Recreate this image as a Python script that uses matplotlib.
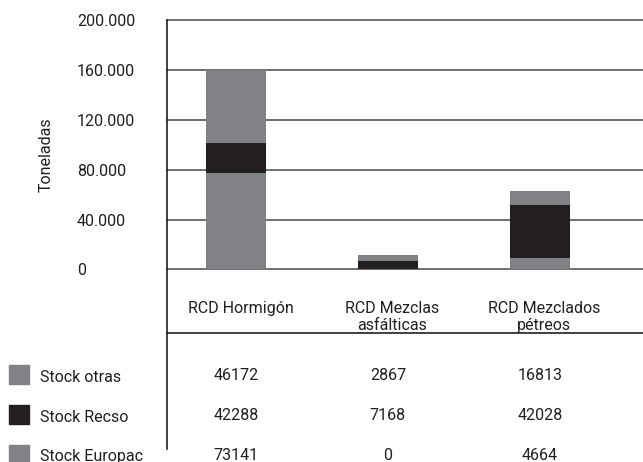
import matplotlib
matplotlib.use("Agg")
import matplotlib.pyplot as plt
from matplotlib.patches import Rectangle
from matplotlib.lines import Line2D
from matplotlib.transforms import blended_transform_factory

plt.rcParams['font.family'] = ['Roboto', 'DejaVu Sans']

# categories and bar heights
categories = ["RCD Hormigón", "RCD Mezclas\nasfálticas", "RCD Mezclados\npétreos"]
stock_europac = [77600, 0, 9200]
stock_recso = [24100, 6700, 42100]
stock_otras = [58300, 4800, 11400]

# table below the chart (as printed)
series_names = ["Stock otras", "Stock Recso", "Stock Europac"]
table_otras = ["46172", "2867", "16813"]
table_recso = ["42288", "7168", "42028"]
table_europac = ["73141", "0", "4664"]

yticks = [0, 40000, 80000, 120000, 160000, 200000]
ytick_labels = ["0", "40.000", "80.000", "120.000", "160.000", "200.000"]

GRAY = "#818285"
BLACK = "#231f20"
GRID = "#626365"
TEXT = "#231f20"

W, H = 643, 462
fig = plt.figure(figsize=(W / 100, H / 100), dpi=100)

def fy(py):
    return 1 - py / H

ax = fig.add_axes([167 / W, fy(269.3), 1 - 167 / W, (269.3 - 20.3) / H])
x = list(range(len(categories)))
bw = 0.395

bottom2 = [a + b for a, b in zip(stock_europac, stock_recso)]
ax.bar(x, stock_europac, bw, color=GRAY, zorder=2)
ax.bar(x, stock_recso, bw, bottom=stock_europac, color=BLACK, zorder=2)
ax.bar(x, stock_otras, bw, bottom=bottom2, color=GRAY, zorder=2)

for t in yticks:
    ax.axhline(t, color=GRID, lw=1.3, zorder=1, clip_on=False)

ax.set_xlim(-0.455, 2.68)
ax.set_ylim(0, 200000)
ax.set_xticks([])
ax.set_yticks(yticks)
ax.set_yticklabels(ytick_labels, fontsize=11.5, color=TEXT)
ax.tick_params(axis='y', length=0, pad=90 * 0.72)
for lab in ax.get_yticklabels():
    lab.set_horizontalalignment('left')
for s in ax.spines.values():
    s.set_visible(False)

fig.text(46 / W, fy(155), "Toneladas", rotation=90, ha='center', va='center',
         fontsize=11.5, color=TEXT)

# left vertical line and separator under category labels
fig.add_artist(Line2D([167 / W, 167 / W], [fy(19.5), fy(449)], color=BLACK, lw=1.2))
fig.add_artist(Line2D([167 / W, 1], [fy(333), fy(333)], color=BLACK, lw=1.2))

tr = blended_transform_factory(ax.transData, fig.transFigure)
for xi, cat in zip(x, categories):
    fig.text(xi + 0.03, fy(317) if "\n" in cat else fy(308), cat, transform=tr,
             ha='center', va='center', fontsize=11.5, color=TEXT, linespacing=1.15)

rows = [table_otras, table_recso, table_europac]
row_y = [376, 416, 456]
row_colors = [GRAY, BLACK, GRAY]
for name, vals, py, c in zip(series_names, rows, row_y, row_colors):
    fig.add_artist(Rectangle((9 / W, fy(py + 8)), 20 / W, 19 / H,
                             transform=fig.transFigure, color=c))
    fig.text(40 / W, fy(py + 1), name, ha='left', va='center', fontsize=11.5, color=TEXT)
    for xi, v in zip(x, vals):
        fig.text(xi, fy(py), v, transform=tr, ha='center', va='center',
                 fontsize=11.5, color=TEXT)

fig.savefig("out.png", dpi=100)
